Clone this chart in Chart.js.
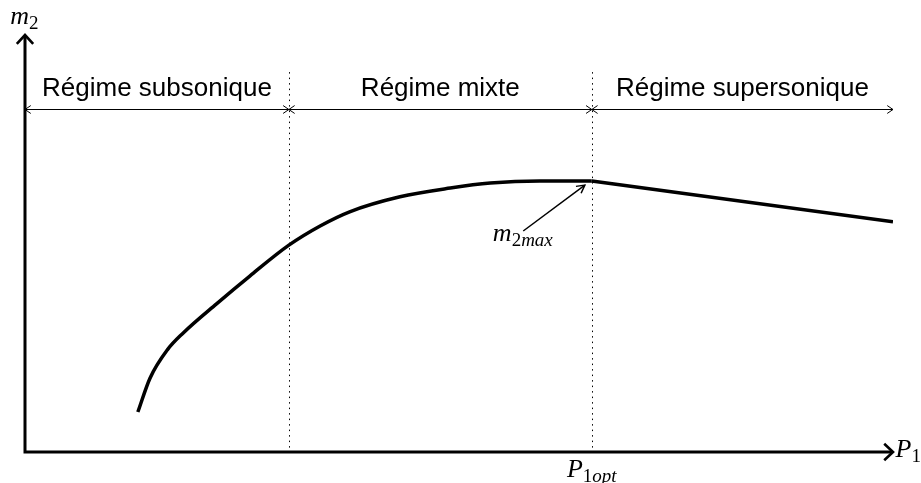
<!DOCTYPE html>
<html>
<head>
<meta charset="utf-8">
<script src="https://cdn.jsdelivr.net/npm/chart.js@4"></script>
<style>
  html, body { margin: 0; padding: 0; background: #fff; }
  #chart { display: block; }
</style>
</head>
<body>
<canvas id="chart" width="921" height="483"></canvas>
<script>
// rising branch of m2(P1), smooth
const risingP1 = [13.0, 14.4, 16.4, 18.2, 22.1, 25.9, 30.4, 34.0, 37.4, 43.2, 49.0, 53.6, 59.3, 65.3];
const risingM2 = [9.6, 17.7, 24.5, 28.5, 35.6, 42.2, 49.6, 54.2, 57.6, 61.2, 63.3, 64.5, 65.0, 65.0];
// falling branch after P1opt, straight
const fallingP1 = [65.3, 100];
const fallingM2 = [65.0, 55.2];

// regime boundaries (x) and labels
const regimeBounds = [0, 30.4, 65.3, 100];
const regimeLabels = ["Régime subsonique", "Régime mixte", "Régime supersonique"];
const dividerTop = 91.1;
const regimeArrowY = 82.3;
const regimeLabelY = 85.4;

// m2max annotation
const peakLabel = { x: 53.9, y: 50.6 };
const peakArrow = { fromX: 57.4, fromY: 53.0, toX: 64.5, toY: 64.0 };

const toPoints = (xs, ys) => xs.map((x, i) => ({ x: x, y: ys[i] }));

const drawHead = (ctx, tipX, tipY, angle, len, spread) => {
  ctx.beginPath();
  ctx.moveTo(tipX - len * Math.cos(angle - spread), tipY - len * Math.sin(angle - spread));
  ctx.lineTo(tipX, tipY);
  ctx.lineTo(tipX - len * Math.cos(angle + spread), tipY - len * Math.sin(angle + spread));
  ctx.stroke();
};

// italic symbol, subscript = upright digit + italic letters
const drawMath = (ctx, main, digit, rest, x, y, size, subSize, align) => {
  const it = "italic " + size + "px 'Liberation Serif'";
  const subUp = subSize + "px 'Liberation Serif'";
  const subIt = "italic " + subSize + "px 'Liberation Serif'";
  ctx.font = it;
  const w1 = ctx.measureText(main).width;
  ctx.font = subUp;
  const w2 = ctx.measureText(digit).width;
  ctx.font = subIt;
  const w3 = ctx.measureText(rest).width;
  let left = x;
  if (align === "center") left = x - (w1 + w2 + w3) / 2;
  ctx.textAlign = "left";
  ctx.textBaseline = "alphabetic";
  const sy = y + size * 0.2;
  ctx.font = it;
  ctx.fillText(main, left, y);
  ctx.font = subUp;
  ctx.fillText(digit, left + w1, sy);
  ctx.font = subIt;
  ctx.fillText(rest, left + w1 + w2, sy);
};

const sketchPlugin = {
  id: "sketch",
  afterDatasetsDraw(chart) {
    const ctx = chart.ctx;
    const xs = chart.scales.x;
    const ys = chart.scales.y;
    const px = (v) => xs.getPixelForValue(v);
    const py = (v) => ys.getPixelForValue(v);
    ctx.save();
    ctx.strokeStyle = "#000";
    ctx.fillStyle = "#000";

    // dotted dividers
    ctx.lineWidth = 1;
    ctx.setLineDash([1.5, 4]);
    [regimeBounds[1], regimeBounds[2]].forEach((b) => {
      ctx.beginPath();
      ctx.moveTo(Math.round(px(b)) + 0.5, py(dividerTop));
      ctx.lineTo(Math.round(px(b)) + 0.5, py(0));
      ctx.stroke();
    });
    ctx.setLineDash([]);

    // regime spans with arrows
    const ay = Math.round(py(regimeArrowY)) + 0.5;
    for (let i = 0; i < regimeLabels.length; i++) {
      const a = px(regimeBounds[i]);
      const b = px(regimeBounds[i + 1]);
      ctx.lineWidth = 1;
      ctx.beginPath();
      ctx.moveTo(a, ay);
      ctx.lineTo(b, ay);
      ctx.stroke();
      drawHead(ctx, a, ay, Math.PI, 7, 0.6);
      drawHead(ctx, b, ay, 0, 7, 0.6);

      ctx.font = "26px 'Liberation Sans'";
      ctx.textAlign = "center";
      ctx.textBaseline = "alphabetic";
      ctx.fillText(regimeLabels[i], (a + b) / 2, py(regimeLabelY));
    }

    // axes
    const ox = px(0), oy = py(0);
    ctx.lineWidth = 3;
    ctx.lineCap = "butt";
    ctx.beginPath();
    ctx.moveTo(ox, oy + 1.5);
    ctx.lineTo(ox, py(100) + 1);
    ctx.moveTo(ox - 1.5, oy);
    ctx.lineTo(px(100) - 1, oy);
    ctx.stroke();
    ctx.lineWidth = 2.6;
    drawHead(ctx, ox, py(100), -Math.PI / 2, 12, 0.75);
    drawHead(ctx, px(100), oy, 0, 12, 0.75);

    // m2max arrow
    ctx.lineWidth = 1.5;
    const fx = px(peakArrow.fromX), fy = py(peakArrow.fromY);
    const tx = px(peakArrow.toX), ty = py(peakArrow.toY);
    ctx.beginPath();
    ctx.moveTo(fx, fy);
    ctx.lineTo(tx, ty);
    ctx.stroke();
    drawHead(ctx, tx, ty, Math.atan2(ty - fy, tx - fx), 9, 0.5);

    // math labels
    drawMath(ctx, "m", "2", "max", px(peakLabel.x), py(peakLabel.y), 26, 19, "left");
    drawMath(ctx, "P", "1", "opt", px(regimeBounds[2]), py(-6.0), 26, 19, "center");
    drawMath(ctx, "P", "1", "", px(100.3), py(-1.2), 26, 19, "left");
    drawMath(ctx, "m", "2", "", px(-1.7), py(102.6), 26, 19, "left");

    ctx.restore();
  }
};

new Chart(document.getElementById("chart"), {
  type: "line",
  data: {
    datasets: [
      {
        data: toPoints(risingP1, risingM2),
        borderColor: "#000",
        borderWidth: 3.5,
        pointRadius: 0,
        cubicInterpolationMode: "monotone",
        fill: false
      },
      {
        data: toPoints(fallingP1, fallingM2),
        borderColor: "#000",
        borderWidth: 3.5,
        pointRadius: 0,
        tension: 0,
        fill: false
      }
    ]
  },
  options: {
    responsive: false,
    animation: false,
    layout: { padding: { left: 25, right: 28, top: 35, bottom: 31 } },
    plugins: {
      legend: { display: false },
      tooltip: { enabled: false }
    },
    scales: {
      x: { type: "linear", min: 0, max: 100, display: false },
      y: { type: "linear", min: 0, max: 100, display: false }
    }
  },
  plugins: [sketchPlugin]
});
</script>
</body>
</html>
